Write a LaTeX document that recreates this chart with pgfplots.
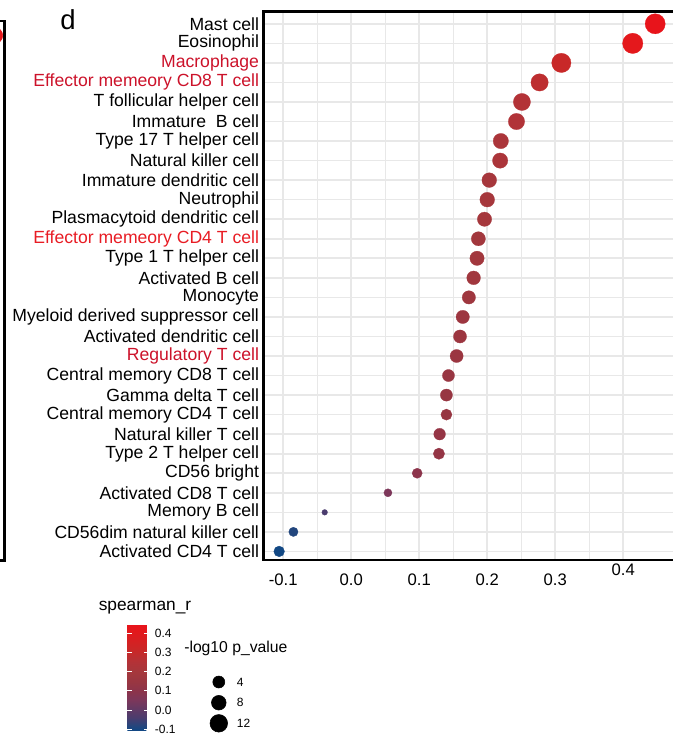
\documentclass[border=0pt]{standalone}
\usepackage{pgfplots}
\pgfplotsset{compat=1.18}
\usepackage{pgfplotstable}
\usepackage{fontspec}
\setmainfont{Liberation Sans}
\definecolor{gridgray}{RGB}{232,232,232}
\definecolor{redA}{RGB}{204,18,42}
\definecolor{redB}{RGB}{232,28,36}
\definecolor{dotred}{RGB}{230,24,28}

\pgfplotsset{colormap={sr}{rgb255(0cm)=(18,72,132); rgb255(4cm)=(35,70,125); rgb255(12cm)=(75,60,110); rgb255(29cm)=(125,55,90); rgb255(37cm)=(140,52,75); rgb255(45cm)=(152,54,66); rgb255(55cm)=(165,55,60); rgb255(65cm)=(180,50,55); rgb255(75cm)=(200,40,40); rgb255(94cm)=(228,24,28); rgb255(100cm)=(232,20,27)}}

% y = row index (0 = bottom), r = spearman_r, s = dot radius (px)
\pgfplotstableread{
y r s
27 0.447 10.2
26 0.414 10.3
25 0.309 9.8
24 0.277 8.8
23 0.251 8.7
22 0.243 8.3
21 0.220 7.8
20 0.219 7.8
19 0.203 7.5
18 0.200 7.5
17 0.196 7.3
16 0.187 7.2
15 0.185 7.3
14 0.180 7.0
13 0.173 6.8
12 0.164 6.8
11 0.160 6.7
10 0.155 6.7
9 0.143 6.2
8 0.140 6.2
7 0.140 5.7
6 0.130 6.0
5 0.129 5.8
4 0.097 5.2
3 0.054 4.2
2 -0.039 3.0
1 -0.085 4.8
0 -0.106 5.5
}\celltypes

\begin{document}
\begin{tikzpicture}
\useasboundingbox (0pt,0pt) rectangle (504pt,-551.25pt);
\begin{axis}[
  at={(197.625pt,-420pt)}, anchor=south west,
  width=308.55pt, height=411.375pt, scale only axis,
  xmin=-0.129, xmax=0.476, ymin=-0.44, ymax=27.63,
  xtick={-0.1,0,0.1,0.2,0.3,0.4},
  xticklabels={-0.1,0.0,0.1,0.2,0.3,\smash{\raisebox{7.5pt}{0.4}}\vphantom{0}},
  minor x tick num=1,
  ytick={0,...,27},
  yticklabels={Activated CD4 T cell,CD56dim natural killer cell,Memory B cell,Activated CD8 T cell,CD56 bright,Type 2 T helper cell,Natural killer T cell,Central memory CD4 T cell,Gamma delta T cell,Central memory CD8 T cell,\textcolor{redA}{Regulatory T cell},Activated dendritic cell,Myeloid derived suppressor cell,Monocyte,Activated B cell,Type 1 T helper cell,\textcolor{redB}{Effector memeory CD4 T cell},Plasmacytoid dendritic cell,Neutrophil,Immature dendritic cell,Natural killer cell,Type 17 T helper cell,Immature\ \ B cell,T follicular helper cell,\textcolor{redA}{Effector memeory CD8 T cell},\textcolor{redA}{Macrophage},Eosinophil,Mast cell},
  grid=both,
  major grid style={gridgray, line width=1.2pt},
  minor grid style={gridgray, line width=0.9pt},
  major tick length=0pt, minor tick length=0pt,
  axis line style={line width=2pt, black},
  xticklabel style={font=\fontsize{12.5}{14}\selectfont, inner sep=0pt, anchor=north, yshift=-10.5pt},
  yticklabel style={font=\fontsize{13.2}{15}\selectfont, inner sep=0pt, anchor=east, xshift=-3.2pt},
  colormap name=sr,
  point meta min=-0.106, point meta max=0.446,
  colorbar,
  colorbar style={
    at={(87pt,-547.7pt)}, anchor=south west,
    width=16pt, height=79.5pt, scale only axis,
    grid=none,
    ytick={-0.1,0,0.1,0.2,0.3,0.4},
    yticklabels={-0.1,0.0,0.1,0.2,0.3,0.4},
    yticklabel style={font=\fontsize{9}{10}\selectfont, inner sep=0pt, anchor=west, xshift=4.5pt},
    major tick length=3.5pt, tick align=inside,
    ytick style={draw=white, line width=0.6pt},
    ytick pos=both, yticklabel pos=right,
    axis line style={draw=none},
  },
]
\addplot[scatter, only marks, mark=*,
  scatter src=explicit,
  scatter/use mapped color={draw=mapped color, fill=mapped color},
  mark options={line width=0.2pt},
  visualization depends on={0.75*\thisrow{s}-0.1 \as \msz},
  scatter/@pre marker code/.append style={/tikz/mark size=\msz}
] table[x=r, y=y, meta=r] {\celltypes};
\end{axis}

% overlay axis in pixel units for the legend, panel letter and neighbouring panel fragment
\begin{axis}[at={(0pt,0pt)}, anchor=north west, width=504pt, height=551.25pt, scale only axis,
  xmin=0, xmax=672, ymin=0, ymax=735, y dir=reverse, hide axis, clip=false]
\addplot[only marks, mark=*, mark size=6pt, dotred] coordinates {(-5.3,35.5)};
\draw[line width=1.8pt] (axis cs:-20,21) -- (axis cs:4.5,21) -- (axis cs:4.5,560.5) -- (axis cs:-20,560.5);
\node[anchor=base west, inner sep=0pt, font=\fontsize{20.6}{24}\selectfont] at (axis cs:60,29.3) {d};
\node[anchor=base west, inner sep=0pt, font=\fontsize{13}{15}\selectfont] at (axis cs:98.5,610.7) {spearman\_r};
\node[anchor=base west, inner sep=0pt, font=\fontsize{11.8}{14}\selectfont] at (axis cs:184,652.7) {-log10 p\_value};
\addplot[only marks, mark=*, mark size=4.5pt, black, point meta=explicit symbolic, nodes near coords,
  nodes near coords style={anchor=west, inner sep=0pt, xshift=13.4pt, font=\fontsize{9}{10}\selectfont, text=black}]
  coordinates {(218.8,682) [4]};
\addplot[only marks, mark=*, mark size=5.5pt, black, point meta=explicit symbolic, nodes near coords,
  nodes near coords style={anchor=west, inner sep=0pt, xshift=13.4pt, font=\fontsize{9}{10}\selectfont, text=black}]
  coordinates {(218.8,702.7) [8]};
\addplot[only marks, mark=*, mark size=6.6pt, black, point meta=explicit symbolic, nodes near coords,
  nodes near coords style={anchor=west, inner sep=0pt, xshift=13.4pt, font=\fontsize{9}{10}\selectfont, text=black}]
  coordinates {(218.8,723.3) [12]};
\end{axis}
\end{tikzpicture}
\end{document}
